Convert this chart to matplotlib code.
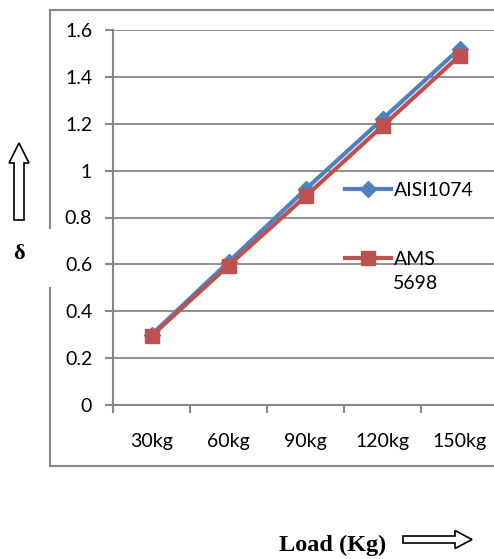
import matplotlib
matplotlib.use("Agg")
import matplotlib.pyplot as plt
from matplotlib.lines import Line2D
from matplotlib.patches import FancyArrow

loads = ["30kg", "60kg", "90kg", "120kg", "150kg"]
aisi1074 = [0.30, 0.61, 0.92, 1.22, 1.52]
ams5698 = [0.295, 0.595, 0.89, 1.19, 1.49]
yticks = [0, 0.2, 0.4, 0.6, 0.8, 1, 1.2, 1.4, 1.6]
ytick_labels = ["0", "0.2", "0.4", "0.6", "0.8", "1", "1.2", "1.4", "1.6"]

W, H = 494, 559
BLUE = "#4F81BD"
RED = "#C0504D"
GRAY = "#878787"
FS = 14
plt.rcParams["font.family"] = ["Lato", "DejaVu Sans"]

fig = plt.figure(figsize=(W / 100, H / 100), dpi=100)
# plot area in pixels: x 113..498, y 30..405
ax = fig.add_axes([113 / W, 1 - 405 / H, 385 / W, 375 / H])

x = list(range(len(loads)))
ax.plot(x, aisi1074, color=BLUE, lw=3, marker="D", ms=8, mec=BLUE, mfc=BLUE,
        label="AISI1074", zorder=3)
ax.plot(x, ams5698, color=RED, lw=3, marker="s", ms=10, mec=RED, mfc=RED,
        label="AMS", zorder=4)

ax.set_xlim(-0.5, len(loads) - 0.5)
ax.set_ylim(0, 1.6)
ax.set_yticks(yticks)
ax.set_yticklabels(ytick_labels)
ax.set_xticks(x)
ax.set_xticklabels(loads)
ax.set_xticks([i - 0.5 for i in range(len(loads) + 1)], minor=True)
ax.tick_params(axis="x", which="major", length=0, pad=20, labelsize=FS)
ax.tick_params(axis="x", which="minor", length=6, width=1.5, color=GRAY)
ax.tick_params(axis="y", length=6, width=1.5, color=GRAY, pad=9, labelsize=FS)
ax.grid(axis="y", color=GRAY, lw=1.3)
ax.set_axisbelow(True)
for s in ["top", "right"]:
    ax.spines[s].set_visible(False)
for s in ["left", "bottom"]:
    ax.spines[s].set_color(GRAY)
    ax.spines[s].set_linewidth(1.5)

leg = ax.legend(loc="upper left", bbox_to_anchor=(0.603, 0.594), frameon=False,
                fontsize=FS, handlelength=2.37, handletextpad=0.15,
                labelspacing=2.65, borderpad=0, borderaxespad=0)
ax.text(0.728, 0.325, "5698", transform=ax.transAxes, fontsize=FS,
        ha="left", va="center")

# outer chart border with a gap on the left edge for the axis label
fx = lambda px: px / W
fy = lambda py: 1 - py / H
for xs, ys in [([50, 50], [10, 228]), ([50, 50], [288, 466]),
               ([50, 500], [10, 10]), ([50, 500], [466, 466])]:
    fig.add_artist(Line2D([fx(v) for v in xs], [fy(v) for v in ys],
                          color=GRAY, lw=1.5))

# y-axis label with outline arrow
fig.add_artist(FancyArrow(fx(19), fy(220), 0, (220 - 143) / H, width=10 / W,
                          head_width=20 / W, head_length=20 / H,
                          length_includes_head=True, transform=fig.transFigure,
                          fc="white", ec="black", lw=1.2))
fig.text(fx(19), fy(254), "δ", family="Liberation Serif", weight="bold",
         fontsize=16, ha="center", va="center")

# x-axis label with outline arrow
fig.text(fx(333), fy(545), "Load (Kg)", family="Liberation Serif", weight="bold",
         fontsize=17.5, ha="center", va="center")
fig.add_artist(FancyArrow(fx(403), fy(539.5), (472 - 403) / W, 0, width=7 / H,
                          head_width=18 / H, head_length=17 / W,
                          length_includes_head=True, transform=fig.transFigure,
                          fc="white", ec="black", lw=1.2))

fig.savefig("out.png", dpi=100)
